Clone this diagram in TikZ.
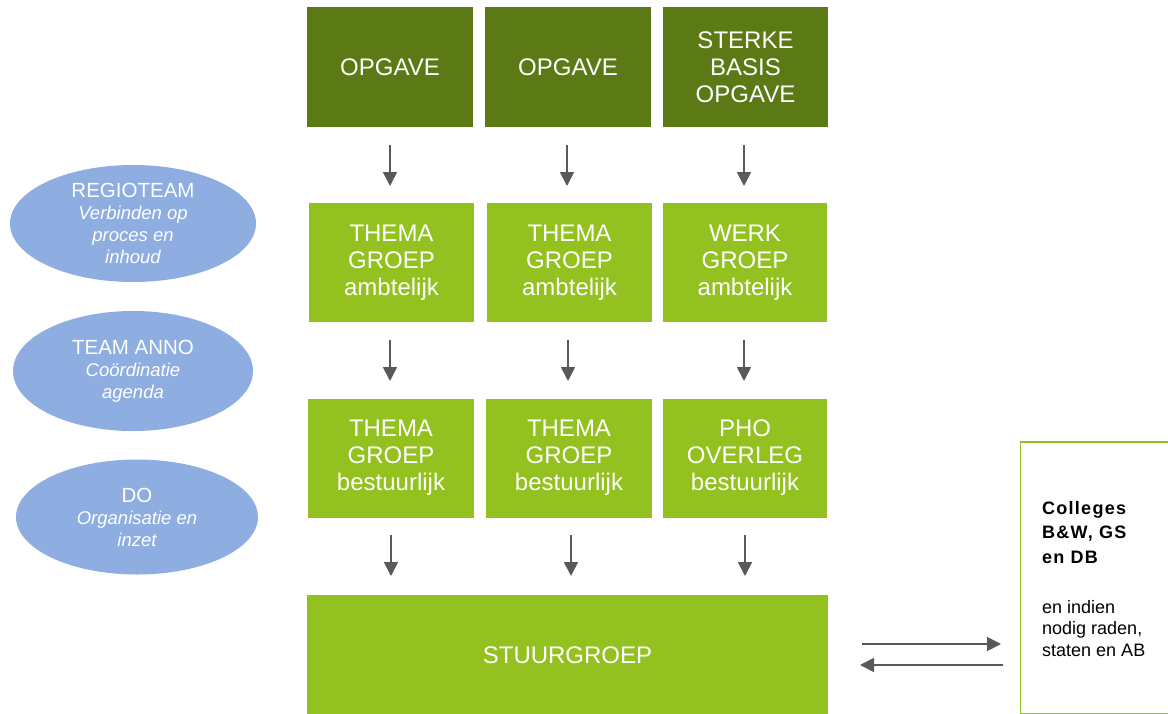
\documentclass[tikz,border=0pt]{standalone}
\usepackage{fontspec}
\setmainfont{Liberation Sans}
\usetikzlibrary{shapes.geometric,arrows.meta}
\definecolor{dgreen}{HTML}{5B7A15}
\definecolor{lgreen}{HTML}{93C11F}
\definecolor{eblue}{HTML}{8EADE0}
\definecolor{agray}{HTML}{595959}
\newcommand{\ovsub}[1]{{\fontsize{18.5}{22}\selectfont\itshape #1}}
\tikzset{
  topbox/.style={draw=none,fill=dgreen,text=white,minimum width=166pt,minimum height=120pt,align=center,inner sep=0pt,font=\fontsize{24}{27}\selectfont},
  midbox/.style={draw=none,fill=lgreen,text=white,minimum width=165pt,minimum height=119pt,align=center,inner sep=0pt,font=\fontsize{24}{27}\selectfont},
  oval/.style={ellipse,fill=eblue,text=white,minimum width=244pt,minimum height=118pt,align=center,inner sep=0pt,font=\fontsize{20.5}{22}\selectfont},
  flow/.style={draw=agray,line width=1.7pt,-{Triangle[length=14pt,width=14pt]}},
}
\begin{document}
\begin{tikzpicture}[x=1pt,y=-1pt]
\useasboundingbox (0,0) rectangle (1168,713);
% top row
\node[topbox] (o1) at (390,67) {OPGAVE};
\node[topbox] (o2) at (568,67) {OPGAVE};
\node[topbox,minimum width=165pt] (o3) at (745.5,67) {STERKE\\BASIS\\OPGAVE};
% second row
\node[midbox] (a1) at (391.5,262.5) {THEMA\\GROEP\\ambtelijk};
\node[midbox] (a2) at (569.5,262.5) {THEMA\\GROEP\\ambtelijk};
\node[midbox,minimum width=164pt] (a3) at (745,262.5) {WERK\\GROEP\\ambtelijk};
% third row
\node[midbox,minimum width=166pt] (b1) at (391,458) {THEMA\\GROEP\\bestuurlijk};
\node[midbox,minimum width=166pt] (b2) at (569,458) {THEMA\\GROEP\\bestuurlijk};
\node[midbox,minimum width=164pt] (b3) at (745,458) {PHO\\OVERLEG\\bestuurlijk};
% stuurgroep
\node[midbox,minimum width=521pt,minimum height=120pt] (s) at (567.5,655) {STUURGROEP};
% colleges
\node[draw=lgreen,line width=1.3pt,fill=white,minimum width=150pt,minimum height=272pt,inner sep=0pt] (c) at (1095.5,578) {};
\node[anchor=base west,align=left,inner sep=0pt,font=\fontsize{18}{24.5}\selectfont\bfseries\addfontfeature{LetterSpace=7}] (ct) at (1042,563) {Colleges\\B\&W, GS\\en DB};
\node[anchor=base west,align=left,inner sep=0pt,font=\fontsize{18}{21.5}\selectfont] (cs) at (1042,656) {en indien\\nodig raden,\\staten en AB};
% ovals
\node[oval,minimum width=246pt,minimum height=117pt] (r) at (133,223.5) {REGIOTEAM\\\ovsub{Verbinden op}\\\ovsub{proces en}\\\ovsub{inhoud}};
\node[oval,minimum width=240pt,minimum height=120pt] (t) at (133,371) {TEAM ANNO\\\ovsub{Coördinatie}\\\ovsub{agenda}};
\node[oval,minimum width=242pt,minimum height=115pt] (d) at (137,517) {DO\\\ovsub{Organisatie en}\\\ovsub{inzet}};
% arrows
\coordinate (p1) at (390,145); \coordinate (q1) at (390,186);
\coordinate (p2) at (567,145); \coordinate (q2) at (567,186);
\coordinate (p3) at (744,145); \coordinate (q3) at (744,186);
\draw[flow] (p1) -- (q1);
\draw[flow] (p2) -- (q2);
\draw[flow] (p3) -- (q3);
\coordinate (p4) at (390,340); \coordinate (q4) at (390,381);
\coordinate (p5) at (568,340); \coordinate (q5) at (568,381);
\coordinate (p6) at (744,340); \coordinate (q6) at (744,381);
\draw[flow] (p4) -- (q4);
\draw[flow] (p5) -- (q5);
\draw[flow] (p6) -- (q6);
\coordinate (p7) at (391,535); \coordinate (q7) at (391,576);
\coordinate (p8) at (571,535); \coordinate (q8) at (571,576);
\coordinate (p9) at (745,535); \coordinate (q9) at (745,576);
\draw[flow] (p7) -- (q7);
\draw[flow] (p8) -- (q8);
\draw[flow] (p9) -- (q9);
\coordinate (r1) at (862,644); \coordinate (r2) at (1001,644);
\coordinate (l1) at (1003,665); \coordinate (l2) at (860,665);
\draw[flow] (r1) -- (r2);
\draw[flow] (l1) -- (l2);
\end{tikzpicture}
\end{document}
